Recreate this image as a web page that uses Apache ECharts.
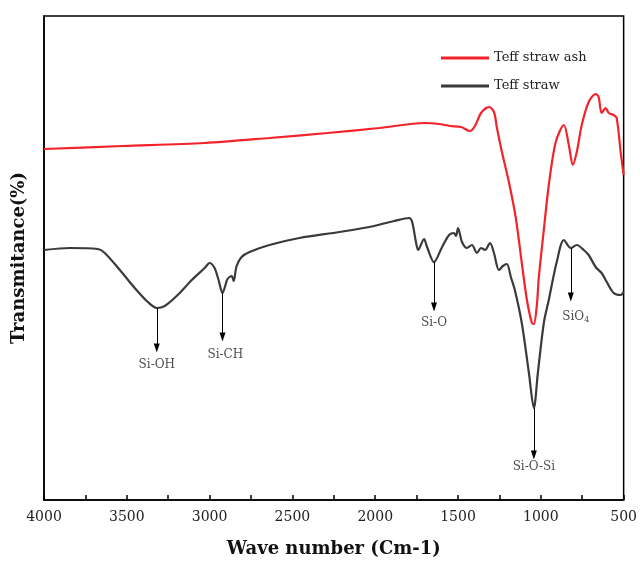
<!DOCTYPE html>
<html>
<head>
<meta charset="utf-8">
<title>FTIR</title>
<script src="https://cdn.jsdelivr.net/npm/echarts@6/dist/echarts.min.js"></script>
<style>
  html, body { margin: 0; padding: 0; background: #fff; }
  #chart { width: 640px; height: 564px; }
</style>
</head>
<body>
<div id="chart"></div>
<script>
// wave numbers (cm-1) and relative transmittance
var strawWave = [4000, 3843, 3675, 3633, 3542, 3452, 3373, 3319, 3271, 3193, 3108, 3030, 3000, 2970, 2946, 2922, 2904, 2892, 2867, 2855, 2837, 2807, 2759, 2639, 2458, 2217, 2036, 1886, 1795, 1777, 1753, 1741, 1705, 1687, 1645, 1596, 1554, 1524, 1512, 1500, 1476, 1446, 1416, 1386, 1361, 1337, 1307, 1283, 1253, 1229, 1205, 1181, 1157, 1115, 1072, 1042, 1018, 982, 952, 940, 904, 861, 819, 783, 741, 711, 669, 633, 602, 560, 518, 500];
var strawT = [250, 252, 251, 247, 230, 212, 198, 192, 194, 205, 220, 232, 237, 232, 220, 207, 215, 221, 224, 219, 234, 243, 248, 255, 262, 268, 273, 279, 282, 278, 257, 250, 261, 253, 238, 253, 265, 267, 264, 272, 258, 252, 255, 247, 252, 250, 257, 247, 230, 234, 236, 223, 210, 177, 127, 92, 127, 177, 200, 210, 238, 260, 252, 255, 250, 245, 233, 227, 218, 207, 205, 208];

var ashWave = [4000, 3524, 3030, 2639, 2289, 1976, 1699, 1615, 1548, 1482, 1428, 1398, 1361, 1313, 1283, 1265, 1235, 1193, 1151, 1115, 1084, 1054, 1042, 1024, 1012, 982, 952, 910, 861, 831, 807, 783, 753, 711, 669, 651, 633, 609, 590, 560, 542, 518, 500];
var ashT = [351, 354, 357, 362, 367, 372, 377, 376, 374, 373, 369, 374, 387, 393, 388, 372, 348, 318, 282, 237, 200, 177, 176, 195, 223, 270, 315, 358, 375, 355, 335, 348, 375, 398, 406, 403, 387, 392, 387, 385, 382, 348, 325];

// band assignments: name, wave number, arrow from / to, label level
var bandNames = ['Si-OH', 'Si-CH', 'Si-O', '{a|SiO}{s|4}', 'Si-O-Si'];
var bandWave = [3319, 2922, 1645, 819, 1042];
var bandFrom = [192, 207, 238, 252, 92];
var bandTo = [152, 163, 193, 203, 45];
var bandLabelWave = [3319, 2905, 1645, 789, 1042];
var bandLabelT = [135, 145, 177, 183, 33];

var serif = 'DejaVu Serif';

function pairs(xs, ys) {
  var out = [];
  for (var i = 0; i < xs.length; i++) out.push([xs[i], ys[i]]);
  return out;
}

var arrows = [];
for (var i = 0; i < bandWave.length; i++) {
  arrows.push([{ coord: [bandWave[i], bandFrom[i]] }, { coord: [bandWave[i], bandTo[i]] }]);
}
var labelPts = [];
for (var j = 0; j < bandNames.length; j++) {
  labelPts.push({ value: [bandLabelWave[j], bandLabelT[j]], name: bandNames[j] });
}

var chart = echarts.init(document.getElementById('chart'));
chart.setOption({
  animation: false,
  backgroundColor: '#fff',
  grid: { left: 44, right: 15, top: 16, bottom: 64, show: true, borderColor: '#000', borderWidth: 1.5 },
  legend: {
    orient: 'vertical',
    left: 436, top: 45,
    itemWidth: 48, itemHeight: 3, itemGap: 12,
    icon: 'rect',
    textStyle: { fontFamily: serif, fontSize: 13, color: '#222', lineHeight: 16 },
    data: ['Teff straw ash', 'Teff straw']
  },
  xAxis: {
    type: 'value', inverse: true, min: 500, max: 4000, interval: 500,
    name: 'Wave number (Cm-1)', nameLocation: 'middle', nameGap: 40,
    nameTextStyle: { fontFamily: serif, fontSize: 18, fontWeight: 'bold', color: '#111' },
    axisLine: { lineStyle: { color: '#000', width: 1.5 } },
    axisTick: { inside: true, length: 5, lineStyle: { color: '#000', width: 1.5 } },
    minorTick: { show: true, splitNumber: 2, length: 5, lineStyle: { color: '#000', width: 1.5 } },
    axisLabel: {
      fontFamily: serif, fontSize: 14, color: '#222', margin: 10,
      formatter: function (v) { return String(v); }
    },
    splitLine: { show: false }
  },
  yAxis: {
    type: 'value', min: 0, max: 484,
    name: 'Transmitance(%)', nameLocation: 'middle', nameGap: 16,
    nameTextStyle: { fontFamily: serif, fontSize: 18, fontWeight: 'bold', color: '#111' },
    axisLine: { lineStyle: { color: '#000', width: 1.5 } },
    axisTick: { show: false }, axisLabel: { show: false }, splitLine: { show: false }
  },
  series: [
    {
      name: 'Teff straw ash', type: 'line', smooth: 0.3, symbol: 'none',
      color: '#f2232a', lineStyle: { width: 2.2 },
      data: pairs(ashWave, ashT)
    },
    {
      name: 'Teff straw', type: 'line', smooth: 0.3, symbol: 'none',
      color: '#3a3a3a', lineStyle: { width: 2.2 },
      data: pairs(strawWave, strawT),
      markLine: {
        silent: true, symbol: ['none', 'triangle'], symbolSize: [6, 9],
        lineStyle: { color: '#000', width: 1, type: 'solid' },
        label: { show: false },
        data: arrows
      }
    },
    {
      name: 'bands', type: 'scatter', symbolSize: 0, silent: true,
      data: labelPts,
      label: {
        show: true, position: 'inside', formatter: '{b}',
        fontFamily: serif, fontSize: 12, color: '#222',
        rich: {
          a: { fontFamily: serif, fontSize: 12, color: '#222' },
          s: { fontFamily: serif, fontSize: 8, color: '#222', verticalAlign: 'bottom', padding: [6, 0, 0, 0] }
        }
      }
    }
  ]
});
</script>
</body>
</html>
